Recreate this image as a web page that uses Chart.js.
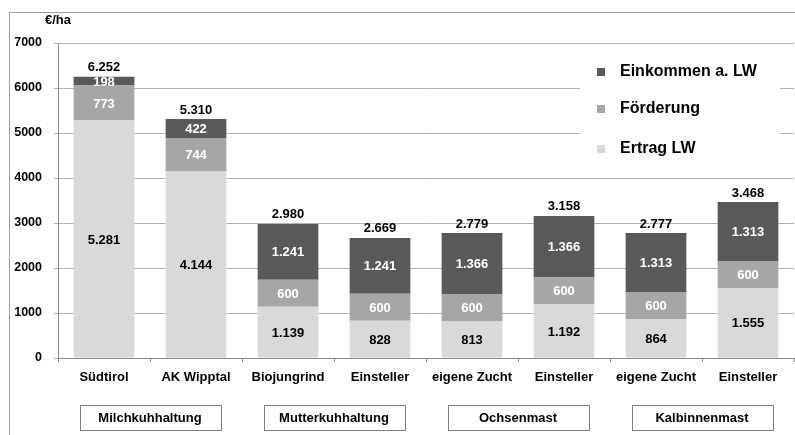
<!DOCTYPE html>
<html>
<head>
<meta charset="utf-8">
<script src="https://cdn.jsdelivr.net/npm/chart.js@4"></script>
<style>
  html, body { margin: 0; padding: 0; background: #fff; }
  #wrap { position: relative; width: 795px; height: 435px; }
</style>
</head>
<body>
<div id="wrap"><canvas id="chart" width="795" height="435"></canvas></div>
<script>
const categories = ['Südtirol', 'AK Wipptal', 'Biojungrind', 'Einsteller', 'eigene Zucht', 'Einsteller', 'eigene Zucht', 'Einsteller'];
const groups = ['Milchkuhhaltung', 'Mutterkuhhaltung', 'Ochsenmast', 'Kalbinnenmast'];
const ertragLW = [5281, 4144, 1139, 828, 813, 1192, 864, 1555];
const foerderung = [773, 744, 600, 600, 600, 600, 600, 600];
const einkommen = [198, 422, 1241, 1241, 1366, 1366, 1313, 1313];
const seriesNames = ['Ertrag LW', 'Förderung', 'Einkommen a. LW'];
const colors = ['#d9d9d9', '#a6a6a6', '#595959'];
const labelColors = ['#000', '#fff', '#fff'];

const FONT = "'Liberation Sans', Arial, sans-serif";
const fmt = v => String(v).replace(/\B(?=(\d{3})+(?!\d))/g, '.');

const extras = {
  id: 'extras',
  beforeDraw(chart) {
    const ctx = chart.ctx;
    ctx.save();
    ctx.fillStyle = '#fff';
    ctx.fillRect(0, 0, chart.width, chart.height);
    ctx.strokeStyle = '#a0a0a0';
    ctx.lineWidth = 1;
    ctx.beginPath();
    ctx.moveTo(9.5, 435);
    ctx.lineTo(9.5, 12.5);
    ctx.lineTo(795, 12.5);
    ctx.stroke();
    ctx.fillStyle = '#000';
    ctx.font = 'bold 13px ' + FONT;
    ctx.textBaseline = 'middle';
    ctx.fillText('€/ha', 45, 20);
    ctx.restore();
  },
  afterDatasetsDraw(chart) {
    const ctx = chart.ctx;
    ctx.save();
    ctx.font = 'bold 13px ' + FONT;
    ctx.textAlign = 'center';
    ctx.textBaseline = 'middle';
    chart.data.datasets.forEach((ds, i) => {
      chart.getDatasetMeta(i).data.forEach((bar, j) => {
        ctx.fillStyle = labelColors[i];
        ctx.fillText(fmt(ds.data[j]), bar.x, (bar.y + bar.base) / 2 + 1);
      });
    });
    const top = chart.getDatasetMeta(2).data;
    ctx.fillStyle = '#000';
    top.forEach((bar, j) => {
      const total = ertragLW[j] + foerderung[j] + einkommen[j];
      ctx.fillText(fmt(total), bar.x, bar.y - 9);
    });

    // legend
    ctx.fillStyle = '#fff';
    ctx.fillRect(580, 55, 200, 112);
    const ly = [72, 109, 149];
    [2, 1, 0].forEach((s, k) => {
      ctx.fillStyle = colors[s];
      ctx.fillRect(597, ly[k] - 4, 8, 8);
      ctx.fillStyle = '#000';
      ctx.textAlign = 'left';
      ctx.font = 'bold 16px ' + FONT;
      ctx.fillText(seriesNames[s], 620, ly[k]);
    });

    // group boxes
    const x = chart.scales.x;
    ctx.font = 'bold 13px ' + FONT;
    ctx.textAlign = 'center';
    groups.forEach((g, k) => {
      const cx = (x.getPixelForValue(2 * k) + x.getPixelForValue(2 * k + 1)) / 2;
      ctx.fillStyle = '#fff';
      ctx.strokeStyle = '#7f7f7f';
      ctx.fillRect(cx - 70, 405, 141, 25);
      ctx.strokeRect(Math.round(cx - 70) + 0.5, 405.5, 141, 25);
      ctx.fillStyle = '#000';
      ctx.fillText(g, cx, 418);
    });
    ctx.restore();
  }
};

new Chart(document.getElementById('chart'), {
  type: 'bar',
  data: {
    labels: categories,
    datasets: [
      { label: seriesNames[0], data: ertragLW, backgroundColor: colors[0] },
      { label: seriesNames[1], data: foerderung, backgroundColor: colors[1] },
      { label: seriesNames[2], data: einkommen, backgroundColor: colors[2] }
    ]
  },
  options: {
    responsive: false,
    animation: false,
    devicePixelRatio: 1,
    layout: { padding: { left: 0, top: 43, right: 1, bottom: 0 } },
    categoryPercentage: 1,
    barPercentage: 0.66,
    plugins: { legend: { display: false }, tooltip: { enabled: false } },
    scales: {
      x: {
        stacked: true,
        afterFit: s => { s.height = 77; },
        grid: { drawOnChartArea: false, tickLength: 4, color: '#888' },
        border: { color: '#888' },
        ticks: { color: '#000', padding: 8, font: { family: FONT, size: 13, weight: 'bold' } }
      },
      y: {
        stacked: true,
        min: 0,
        max: 7000,
        afterFit: s => { s.width = 58; },
        grid: { color: '#b3b3b3', tickLength: 4 },
        border: { color: '#888' },
        ticks: {
          stepSize: 1000, color: '#000', padding: 12,
          font: { family: FONT, size: 12.5, weight: 'bold' },
          callback: v => String(v)
        }
      }
    }
  },
  plugins: [extras]
});
</script>
</body>
</html>
